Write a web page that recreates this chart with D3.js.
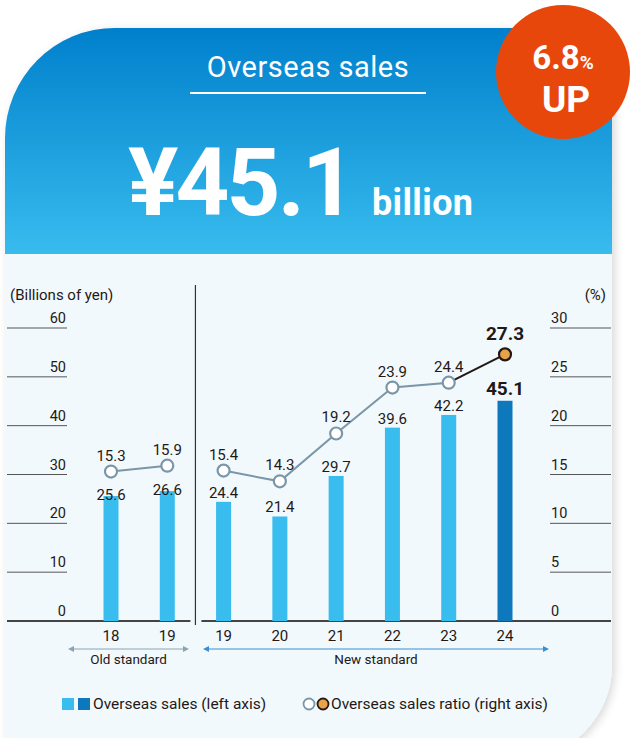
<!DOCTYPE html>
<html>
<head>
<meta charset="utf-8">
<script src="https://cdn.jsdelivr.net/npm/d3@7"></script>
<style>
  html, body { margin: 0; padding: 0; background: #fff; }
  svg { display: block; font-family: "Roboto", "DejaVu Sans", sans-serif; }
</style>
</head>
<body>
<main></main>
<script>
const years = ["18", "19", "19", "20", "21", "22", "23", "24"]
const standards = ["old", "old", "new", "new", "new", "new", "new", "new"]
const sales = [25.6, 26.6, 24.4, 21.4, 29.7, 39.6, 42.2, 45.1]
const ratio = [15.3, 15.9, 15.4, 14.3, 19.2, 23.9, 24.4, 27.3]
const leftTicks = [0, 10, 20, 30, 40, 50, 60]
const rightTicks = [0, 5, 10, 15, 20, 25, 30]

const w = 630
const h = 738

const data = years.map((y, i) => ({
  key: standards[i] + y,
  year: y,
  std: standards[i],
  sales: sales[i],
  ratio: ratio[i],
  last: i === years.length - 1,
}))

const svg = d3.select("main").append("svg").attr("width", w).attr("height", h)
const defs = svg.append("defs")

const grad = defs.append("linearGradient").attr("id", "head").attr("x1", 0).attr("y1", 0).attr("x2", 0).attr("y2", 1)
grad.append("stop").attr("offset", "0%").attr("stop-color", "#0080cc")
grad.append("stop").attr("offset", "100%").attr("stop-color", "#38bcee")

const shadow = defs.append("filter").attr("id", "shadow").attr("x", "-10%").attr("y", "-10%").attr("width", "120%").attr("height", "120%")
shadow.append("feDropShadow").attr("dx", 3).attr("dy", 2).attr("stdDeviation", 4).attr("flood-color", "#000").attr("flood-opacity", 0.15)

// card shape
const L = 5, T = 28, R = 612, B = 760, rTL = 110, rBR = 95
const cardPath = `M${L},${T + rTL} A${rTL},${rTL} 0 0 1 ${L + rTL},${T} L${R},${T} L${R},${B - rBR} A${rBR},${rBR} 0 0 1 ${R - rBR},${B} L${L},${B} Z`
defs.append("clipPath").attr("id", "card").append("path").attr("d", cardPath)

svg.append("path").attr("d", cardPath).attr("fill", "#f2f9fd").attr("filter", "url(#shadow)")
svg.append("rect").attr("x", L).attr("y", T).attr("width", R - L).attr("height", 226)
  .attr("fill", "url(#head)").attr("clip-path", "url(#card)")

// header
svg.append("text").attr("x", 308).attr("y", 77).attr("text-anchor", "middle")
  .attr("fill", "#fff").attr("font-size", 29).attr("letter-spacing", 0.5).text("Overseas sales")
svg.append("line").attr("x1", 190).attr("x2", 426).attr("y1", 93).attr("y2", 93)
  .attr("stroke", "#fff").attr("stroke-width", 2)
const big = svg.append("text").attr("y", 215).attr("fill", "#fff").attr("font-weight", "bold")
big.append("tspan").attr("x", 128).attr("font-size", 94).attr("textLength", 228).text("¥45.1")
big.append("tspan").attr("x", 372).attr("font-size", 36).attr("textLength", 101).text("billion")

// badge
svg.append("circle").attr("cx", 563).attr("cy", 72).attr("r", 67).attr("fill", "#e8470c")
const badge = svg.append("text").attr("x", 563).attr("y", 69).attr("text-anchor", "middle")
  .attr("fill", "#fff").attr("font-weight", "bold")
badge.append("tspan").attr("font-size", 33).text("6.8")
badge.append("tspan").attr("font-size", 19).text("%")
svg.append("text").attr("x", 566).attr("y", 112).attr("text-anchor", "middle")
  .attr("fill", "#fff").attr("font-weight", "bold").attr("font-size", 37).text("UP")

// scales
const x = d3.scalePoint().domain(data.map((d) => d.key)).range([111, 505])
const yL = d3.scaleLinear().domain([0, 60]).range([621, 328])
const yR = d3.scaleLinear().domain([0, 30]).range([621, 328])

const textCol = "#231815"

// left axis
const gL = svg.append("g").attr("id", "y-left")
gL.selectAll("line").data(leftTicks.filter((t) => t > 0)).enter().append("line")
  .attr("x1", 7).attr("x2", 67).attr("y1", (d) => yL(d)).attr("y2", (d) => yL(d))
  .attr("stroke", "#555").attr("stroke-width", 1)
gL.selectAll("text").data(leftTicks).enter().append("text")
  .attr("x", 66).attr("y", (d) => yL(d) - 5).attr("text-anchor", "end")
  .attr("font-size", 14.5).attr("fill", textCol).text((d) => d)
svg.append("text").attr("x", 10).attr("y", 300).attr("font-size", 15).attr("fill", textCol).text("(Billions of yen)")

// right axis
const gR = svg.append("g").attr("id", "y-right")
gR.selectAll("line").data(rightTicks.filter((t) => t > 0)).enter().append("line")
  .attr("x1", 550).attr("x2", 611).attr("y1", (d) => yR(d)).attr("y2", (d) => yR(d))
  .attr("stroke", "#555").attr("stroke-width", 1)
gR.selectAll("text").data(rightTicks).enter().append("text")
  .attr("x", 551).attr("y", (d) => yR(d) - 5)
  .attr("font-size", 14.5).attr("fill", textCol).text((d) => d)
svg.append("text").attr("x", 606).attr("y", 300).attr("text-anchor", "end").attr("font-size", 15).attr("fill", textCol).text("(%)")

// divider + baselines
const divX = (x("old19") + x("new19")) / 2
svg.append("line").attr("x1", divX).attr("x2", divX).attr("y1", 285).attr("y2", 625).attr("stroke", "#333").attr("stroke-width", 1.2)
svg.append("line").attr("x1", 7).attr("x2", divX - 5).attr("y1", yL(0)).attr("y2", yL(0)).attr("stroke", "#444").attr("stroke-width", 2)
svg.append("line").attr("x1", divX + 6).attr("x2", 611).attr("y1", yL(0)).attr("y2", yL(0)).attr("stroke", "#444").attr("stroke-width", 2)

// bars
const bw = 15
svg.selectAll(".bar").data(data).enter().append("rect").attr("class", "bar")
  .attr("x", (d) => x(d.key) - bw / 2).attr("width", bw)
  .attr("y", (d) => yL(d.sales)).attr("height", (d) => yL(0) - yL(d.sales))
  .attr("fill", (d) => (d.last ? "#0e78bd" : "#38bdee"))

svg.selectAll(".bar-label").data(data).enter().append("text").attr("class", "bar-label")
  .attr("x", (d) => x(d.key)).attr("y", (d) => yL(d.sales) - (d.last ? 6 : d.std === "old" ? -4 : 4))
  .attr("text-anchor", "middle").attr("fill", textCol)
  .attr("font-size", (d) => (d.last ? 19 : 15)).attr("font-weight", (d) => (d.last ? "bold" : "normal"))
  .text((d) => d.sales.toFixed(1))

// ratio lines
const line = d3.line().x((d) => x(d.key)).y((d) => yR(d.ratio))
const oldPts = data.filter((d) => d.std === "old")
const newPts = data.filter((d) => d.std === "new")
svg.append("path").attr("d", line(oldPts)).attr("fill", "none").attr("stroke", "#7b96a6").attr("stroke-width", 2)
svg.append("path").attr("d", line(newPts.slice(0, -1))).attr("fill", "none").attr("stroke", "#7b96a6").attr("stroke-width", 2)
svg.append("path").attr("d", line(newPts.slice(-2))).attr("fill", "none").attr("stroke", "#231815").attr("stroke-width", 2)

svg.selectAll(".dot").data(data).enter().append("circle").attr("class", "dot")
  .attr("cx", (d) => x(d.key)).attr("cy", (d) => yR(d.ratio)).attr("r", 6)
  .attr("fill", (d) => (d.last ? "#e8a34a" : "#fff"))
  .attr("stroke", (d) => (d.last ? "#231815" : "#7b96a6")).attr("stroke-width", 2.2)

svg.selectAll(".dot-label").data(data).enter().append("text").attr("class", "dot-label")
  .attr("x", (d) => x(d.key)).attr("y", (d) => yR(d.ratio) - (d.last ? 14 : 11))
  .attr("text-anchor", "middle").attr("fill", textCol)
  .attr("font-size", (d) => (d.last ? 19 : 15)).attr("font-weight", (d) => (d.last ? "bold" : "normal"))
  .text((d) => d.ratio.toFixed(1))

// x labels
svg.selectAll(".x-label").data(data).enter().append("text").attr("class", "x-label")
  .attr("x", (d) => x(d.key)).attr("y", 641).attr("text-anchor", "middle")
  .attr("font-size", 15).attr("fill", textCol).text((d) => d.year)

// standard ranges
const arrow = (x1, x2, col, label) => {
  const g = svg.append("g")
  g.append("line").attr("x1", x1 + 3).attr("x2", x2 - 3).attr("y1", 649).attr("y2", 649).attr("stroke", col).attr("stroke-width", 1)
  g.append("path").attr("d", `M${x1},649 l6,-3 v6 Z`).attr("fill", col)
  g.append("path").attr("d", `M${x2},649 l-6,-3 v6 Z`).attr("fill", col)
  g.append("text").attr("x", (x1 + x2) / 2).attr("y", 664).attr("text-anchor", "middle")
    .attr("font-size", 13.5).attr("fill", textCol).text(label)
}
arrow(68, 189, "#8aa4b2", "Old standard")
arrow(203, 549, "#3a8fd0", "New standard")

// legend
const lg = svg.append("g").attr("id", "legend")
lg.append("rect").attr("x", 62).attr("y", 698).attr("width", 12).attr("height", 12).attr("fill", "#38bdee")
lg.append("rect").attr("x", 78).attr("y", 698).attr("width", 12).attr("height", 12).attr("fill", "#0e78bd")
lg.append("text").attr("x", 93).attr("y", 709).attr("font-size", 15.5).attr("fill", textCol).text("Overseas sales (left axis)")
lg.append("circle").attr("cx", 309).attr("cy", 704).attr("r", 5.5).attr("fill", "#fff").attr("stroke", "#7b96a6").attr("stroke-width", 1.8)
lg.append("circle").attr("cx", 323).attr("cy", 704).attr("r", 5.5).attr("fill", "#e8a34a").attr("stroke", "#231815").attr("stroke-width", 1.8)
lg.append("text").attr("x", 331).attr("y", 709).attr("font-size", 15.5).attr("fill", textCol).text("Overseas sales ratio (right axis)")
</script>
</body>
</html>
